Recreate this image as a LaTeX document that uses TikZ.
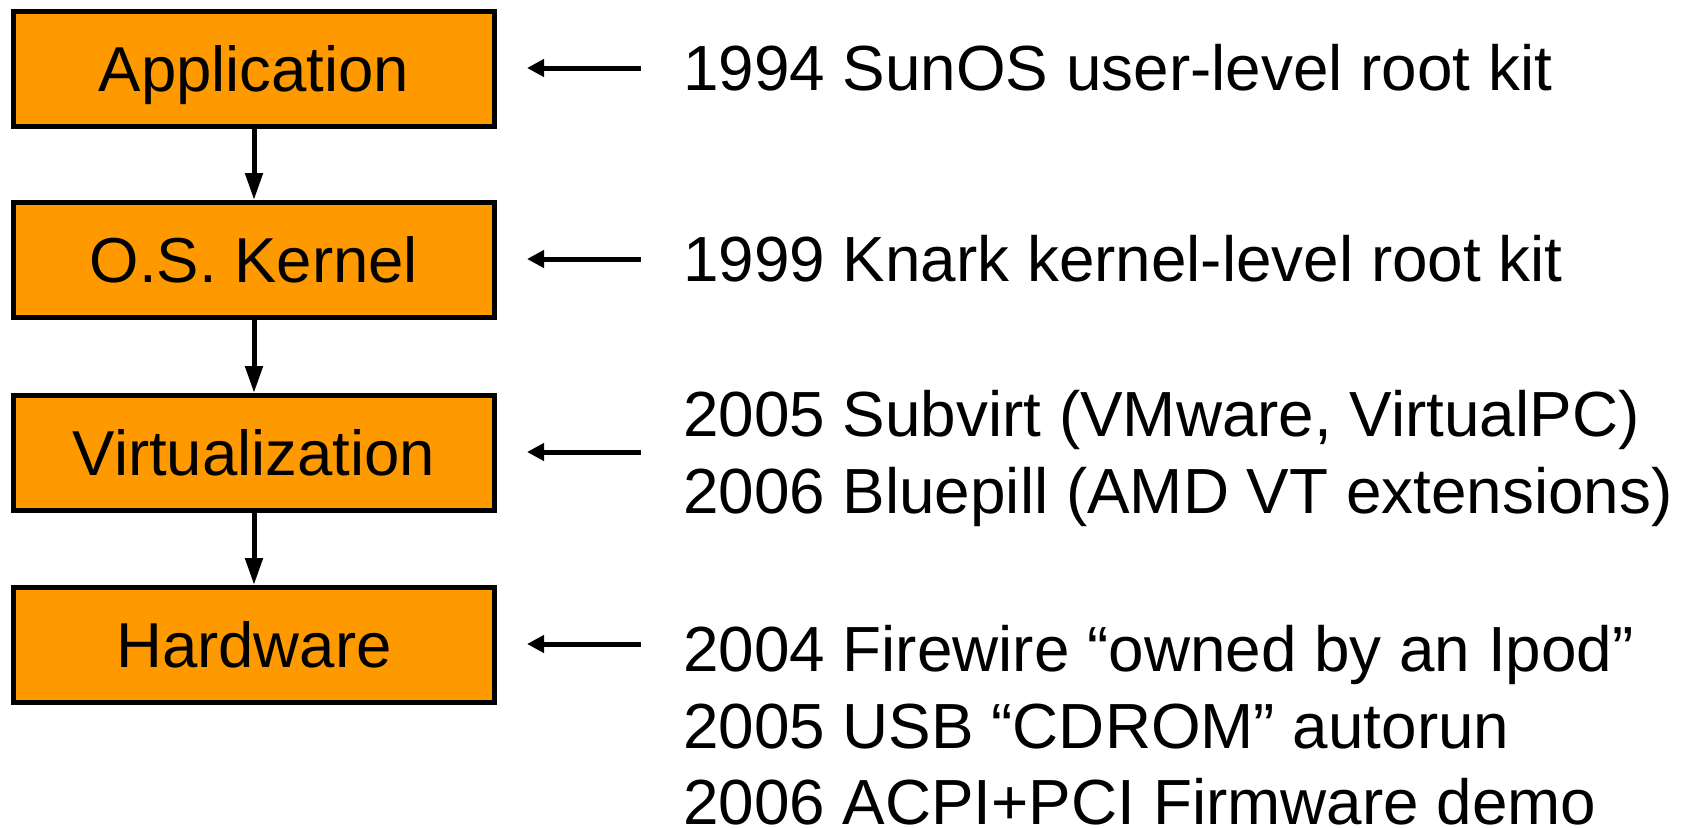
\documentclass[tikz,border=0pt]{standalone}
\usepackage{fontspec}
\setmainfont{Liberation Sans}
\usetikzlibrary{arrows.meta}
\definecolor{boxorange}{RGB}{255,153,0}
\tikzset{
  layer/.style={draw=black, line width=5pt, fill=boxorange, minimum width=481pt, minimum height=115pt,
    inner sep=0pt, text height=45.5pt, text depth=0pt, font=\fontsize{63.5}{76.2}\selectfont},
  note/.style={anchor=base west, inner sep=0pt, font=\fontsize{63.8}{76.5}\selectfont},
  downarrow/.style={line width=5pt, -{Triangle[length=27pt,width=17pt]}},
  leftarrow/.style={line width=5pt, -{Triangle[length=17pt,width=17pt]}, shorten >=30pt}
}
\begin{document}
\begin{tikzpicture}[x=1pt,y=-1pt]
\useasboundingbox (0,0) rectangle (1686,827);
\node[layer] (app)  at (254,69)  {Application};
\node[layer] (kern) at (254,260) {O.S. Kernel};
\node[layer] (virt) at (254,453) {Virtualization};
\node[layer] (hw)   at (254,645) {Hardware};
\draw[downarrow] (app.south) -- (kern.north);
\draw[downarrow] (kern.south) -- (virt.north);
\draw[downarrow] (virt.south) -- (hw.north);

\node[note] (t1)  at (683,90)  {1994 SunOS user-level root kit};
\node[note] (t2)  at (683,281) {1999 Knark kernel-level root kit};
\node[note] (t3a) at (683,436) {2005 Subvirt (VMware, VirtualPC)};
\node[note] (t3b) at (683,513) {2006 Bluepill (AMD VT extensions)};
\node[note] (t4a) at (683,671) {2004 Firewire “owned by an Ipod”};
\node[note] (t4b) at (683,748) {2005 USB “CDROM” autorun};
\node[note] (t4c) at (683,824) {2006 ACPI+PCI Firmware demo};

\coordinate (a1) at (641,68);
\coordinate (a2) at (641,259);
\coordinate (a3) at (641,452);
\coordinate (a4) at (641,644);
\draw[leftarrow] (a1) -- (a1 -| app.east);
\draw[leftarrow] (a2) -- (a2 -| kern.east);
\draw[leftarrow] (a3) -- (a3 -| virt.east);
\draw[leftarrow] (a4) -- (a4 -| hw.east);
\end{tikzpicture}
\end{document}
